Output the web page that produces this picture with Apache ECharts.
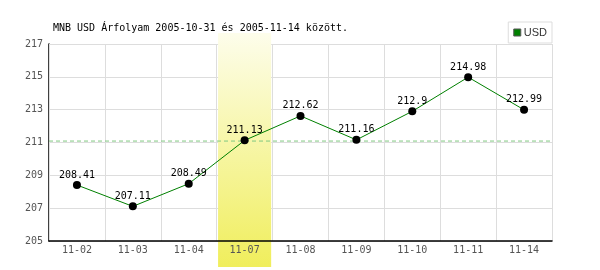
<!DOCTYPE html>
<html><head><meta charset="utf-8">
<script src="https://cdn.jsdelivr.net/npm/echarts@6/dist/echarts.min.js"></script>
<style>html,body{margin:0;padding:0;background:#fff}#c{width:600px;height:270px}</style>
</head><body><div id="c"></div>
<script>
const categories = ['11-02','11-03','11-04','11-07','11-08','11-09','11-10','11-11','11-14'];
const usdValues = [208.41, 207.11, 208.49, 211.13, 212.62, 211.16, 212.9, 214.98, 212.99];
const highlightCategory = '11-07';
const titleText = 'MNB USD Árfolyam 2005-10-31 és 2005-11-14 között.';
const seriesName = 'USD';
const yMin = 205, yMax = 217, yStep = 2;

const mono = 'DejaVu Sans Mono';
const avg = usdValues.reduce((a, b) => a + b, 0) / usdValues.length;
const chart = echarts.init(document.getElementById('c'));
chart.setOption({
  animation: false,
  backgroundColor: '#fff',
  title: { text: titleText, left: 48, top: 18, textStyle: { fontFamily: mono, fontSize: 10, fontWeight: 'normal', color: '#000' } },
  legend: {
    data: [{ name: seriesName, icon: 'rect', itemStyle: { color: '#008000', borderColor: '#555', borderWidth: 1 } }],
    right: 48, top: 22, padding: [5, 5, 5, 5], borderColor: '#ddd', borderWidth: 1,
    itemWidth: 7, itemHeight: 7, itemGap: 3,
    textStyle: { fontFamily: 'Liberation Sans Narrow, Liberation Sans', fontSize: 11, color: '#333', padding: [0, 0, 0, -2] }
  },
  grid: [
    { left: 49, right: 48, top: 44, bottom: 29 },
    { left: 49, right: 48, top: 33, bottom: 3 },
    { left: 49, right: 48, top: 44, bottom: 29 }
  ],
  xAxis: [
    { type: 'category', gridIndex: 0, data: categories, boundaryGap: true,
      axisLine: { lineStyle: { color: '#000', width: 1.5 } }, axisTick: { show: false },
      axisLabel: { fontFamily: mono, fontSize: 10, color: '#555', margin: 4 },
      splitLine: { show: true, interval: 0, lineStyle: { color: '#ddd' } }, z: 3 },
    { type: 'category', gridIndex: 1, data: categories, show: false },
    { type: 'value', gridIndex: 2, min: 0, max: 1, show: false }
  ],
  yAxis: [
    { type: 'value', gridIndex: 0, min: yMin, max: yMax, interval: yStep,
      axisLine: { show: true, lineStyle: { color: '#000', width: 1.5 } }, axisTick: { show: false },
      axisLabel: { fontFamily: mono, fontSize: 10, color: '#555', margin: 6 },
      splitLine: { lineStyle: { color: '#ddd' } } },
    { type: 'value', gridIndex: 1, min: 0, max: 1, show: false },
    { type: 'value', gridIndex: 2, min: yMin, max: yMax, show: false }
  ],
  series: [
    { type: 'bar', xAxisIndex: 1, yAxisIndex: 1, z: 0, silent: true, barCategoryGap: '5%',
      data: categories.map(c => c === highlightCategory ? 1 : 0),
      itemStyle: { color: new echarts.graphic.LinearGradient(0, 0, 0, 1, [
        { offset: 0, color: '#fdfdeb' }, { offset: 1, color: '#f0ee5c' }]) } },
    { type: 'line', xAxisIndex: 2, yAxisIndex: 2, z: 4, silent: true, symbol: 'none',
      data: [[0, avg], [1, avg]],
      lineStyle: { color: '#80c880', type: [4, 3], width: 1 } },
    { name: seriesName, type: 'line', xAxisIndex: 0, yAxisIndex: 0, data: usdValues, z: 5,
      symbol: 'circle', symbolSize: 8,
      itemStyle: { color: '#000' }, lineStyle: { color: '#008000', width: 1 },
      label: { show: true, position: 'top', distance: 1, fontFamily: mono, fontSize: 10, color: '#000' } }
  ]
});
</script></body></html>
